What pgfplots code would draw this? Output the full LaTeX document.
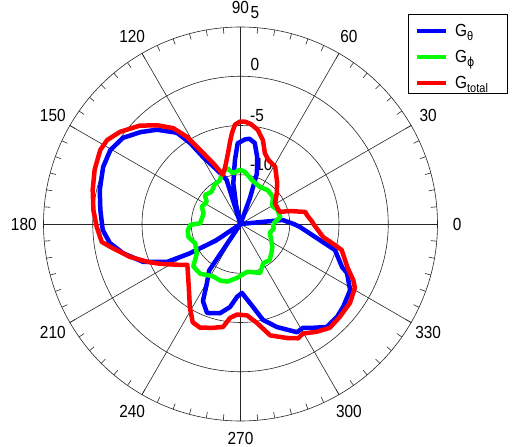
\documentclass[border=0pt]{standalone}
\usepackage{fontspec}
\setmainfont{Liberation Sans}[FakeStretch=0.88]
\newfontfamily\dv{DejaVu Sans}[FakeStretch=0.88]
\usepackage{pgfplots}
\pgfplotsset{compat=1.18}
\usepackage{pgfplotstable}

\pgfplotstableread{
a g
0 -9.6
5.4 -10.7
7 -15
68 -15
70 -12.2
72 -9.6
76 -8.0
80 -6.65
84 -6.3
87 -6.4
92 -6.8
95 -8.5
100 -10.8
103 -13
105 -15
106 -15
107.5 -10.3
113.5 -9.0
119.2 -7.2
121.9 -5.3
124.9 -3.7
131.6 -2.2
137.5 -1.2
143.8 -0.2
150.4 0.2
157.5 0.1
166.4 -0.3
174.3 -0.7
182.5 -1.0
188.3 -1.6
193.9 -2.7
201.3 -4.4
207.3 -6.6
210 -9.0
214 -12
217 -15
234 -15
236 -9.3
240.4 -8.1
244 -6.3
249.4 -5.35
257 -5.7
262.8 -6.5
267.3 -7.6
271.2 -8.0
276.9 -6.9
283.2 -5.0
289.5 -3.9
297.6 -2.6
301 -2.7
303.8 -2.3
310 -1.35
316.1 -1.4
321 -1.6
328.9 -2.0
335.3 -3.1
337 -3.8
344.6 -5.05
348.6 -6.8
357.1 -8.95
360 -9.6
}\tabblue

\pgfplotstableread{
a g
0 -11.7
10 -10.9
21 -11.0
30 -11.3
39.7 -10.7
51 -10.6
62.2 -10.75
75.4 -10.4
85 -9.7
90.5 -9.5
98.4 -9.8
103 -9.2
109 -9.4
115.5 -10.1
123 -10.2
132 -10.6
141 -10.35
147 -10.9
156 -10.7
164 -11.1
174 -11.0
179 -10.9
181 -9.9
187 -9.6
194 -9.55
203 -10.0
214 -9.65
222 -8.55
231 -8.5
242 -9.0
250 -8.9
257 -9.0
266 -9.5
278 -10.1
292 -9.65
300 -10.4
309 -10.3
317 -10.7
324 -11.0
333 -11.5
343 -11.9
352 -11.6
360 -11.7
}\tabgreen

\pgfplotstableread{
a g
0 -7.6
1.6 -7.7
7.7 -8.2
10.5 -8.3
14.7 -9.8
17 -10.8
20.5 -10.9
31.3 -10.9
40 -10.2
48.3 -9.4
58.8 -8.2
66.7 -7.9
71 -7.4
75 -6.2
79.5 -5.3
84 -4.8
87.5 -4.6
90.3 -4.6
93.2 -4.9
95.3 -5.7
97.3 -6.6
100 -7.7
105 -9.0
109.7 -9.7
112 -9.0
114.3 -8.2
118.7 -6.4
121.6 -4.6
125.1 -3.1
130.1 -1.9
135.7 -0.7
142.6 0.4
147.8 1.0
152.2 1.1
159.6 0.8
167 0.4
174.6 0.0
181.2 -0.4
187.4 -0.8
190.7 -1.8
196.6 -3.3
202.1 -4.8
206.4 -5.9
214.1 -7.6
217.5 -8.2
223 -7.7
232 -6.5
238.7 -5.1
244.1 -3.9
248.7 -3.7
255.2 -4.1
260.4 -4.4
263.6 -5.4
267.8 -5.8
274.1 -5.7
279.5 -4.8
284.9 -3.3
292.2 -2.5
296.8 -2.0
299.6 -2.2
305.3 -1.6
310.7 -1.1
316.9 -1.2
324.2 -1.3
330.8 -1.7
333.5 -2.2
338 -3.3
345.6 -4.4
347.5 -5.2
351 -6.5
360 -7.6
}\tabred

\newcommand\lbl{\fontsize{17.5bp}{18bp}\selectfont}
\newcommand\subf{\fontsize{12.5bp}{13bp}\selectfont}

\begin{document}
\begin{tikzpicture}
\useasboundingbox (-240.5bp,-223bp) rectangle (273.5bp,224bp);
% grid
\begin{scope}[line width=0.6bp, black!85]
  \foreach \r in {49.25,98.5,147.75,197} \draw (0,0) circle[radius=\r bp];
  \foreach \a in {0,30,...,150} \draw (\a:197bp) -- (\a+180:197bp);
  \foreach \a in {0,5,...,355} \draw (\a:197bp) -- (\a:191bp);
\end{scope}
% angle labels
\foreach \a in {0,30,...,240,300,330} \node[font=\lbl, inner sep=0pt] at (\a:216.7bp) {\a};
\node[font=\lbl, inner sep=0pt, anchor=south] at (0,-220.5bp) {270};
% radial labels
\node[font=\lbl, inner sep=0pt, anchor=west] at (10bp,211.3bp) {5};
\node[font=\lbl, inner sep=0pt, anchor=west] at (10bp,159.3bp) {0};
\node[font=\lbl, inner sep=0pt, anchor=west] at (9.5bp,108bp) {-5};
\node[font=\lbl, inner sep=0pt, anchor=west] at (9.5bp,59.5bp) {-10};

\begin{axis}[at={(0,0)}, anchor=center, hide axis,
  x=9.85bp, y=9.85bp, xmin=-20, xmax=20, ymin=-20, ymax=20, clip=false]
\addplot[blue, line width=4.5bp, line join=round, data cs=polar]
  table[x=a, y expr=\thisrow{g}+15] {\tabblue};
\addplot[green, line width=4.5bp, line join=round, data cs=polar]
  table[x=a, y expr=\thisrow{g}+15] {\tabgreen};
\addplot[red, line width=4.5bp, line join=round, data cs=polar]
  table[x=a, y expr=\thisrow{g}+15] {\tabred};
\end{axis}

% legend
\draw[line width=0.6bp, fill=white] (167.5bp,210bp) rectangle (266.5bp,131bp);
\draw[blue, line width=4.5bp] (176.5bp,193bp) -- (205.5bp,193bp);
\draw[green, line width=4.5bp] (176.5bp,167bp) -- (205.5bp,167bp);
\draw[red, line width=4.5bp] (176.5bp,141bp) -- (205.5bp,141bp);
\node[font=\lbl, inner sep=0pt, anchor=base west] at (214.5bp,187bp) {G\raisebox{-3.5bp}{\subf θ}};
\node[font=\lbl, inner sep=0pt, anchor=base west] at (214.5bp,161bp) {G\raisebox{-3.5bp}{\subf\dv ϕ}};
\node[font=\lbl, inner sep=0pt, anchor=base west] at (214.5bp,135bp) {G\raisebox{-3.5bp}{\subf total}};
\end{tikzpicture}
\end{document}
